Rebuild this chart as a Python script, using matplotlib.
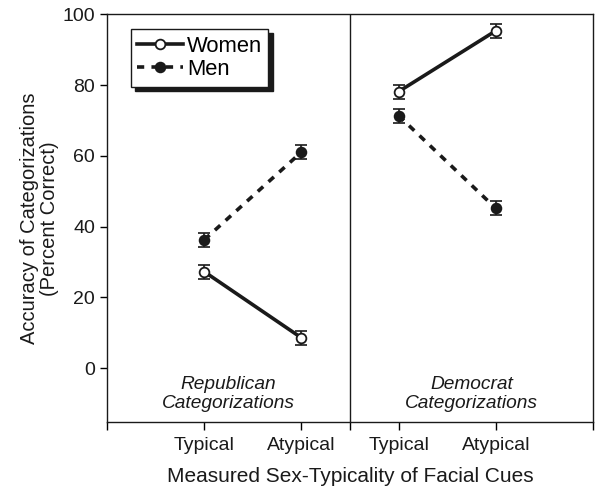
import numpy as np
import matplotlib.pyplot as plt

plt.rcParams['font.family'] = ['Liberation Sans', 'DejaVu Sans']

# x positions of the conditions (Republican panel left, Democrat panel right)
rep_x = [2, 4]
dem_x = [6, 8]
tick_pos = [0, 2, 4, 5, 6, 8, 10]
tick_labels = ['', 'Typical', 'Atypical', '', 'Typical', 'Atypical', '']

# percent correct
rep_women = [27.3, 8.6]
rep_men = [36.3, 61.1]
dem_women = [78.2, 95.4]
dem_men = [71.4, 45.2]
rep_women_se = [2.0, 2.0]
rep_men_se = [2.0, 2.0]
dem_women_se = [2.0, 2.0]
dem_men_se = [2.0, 2.0]

ink = '#1a1a1a'

fig = plt.figure(figsize=(5.95, 4.9), dpi=100)
ax = fig.add_axes([107/595, 1-422/490, 486/595, (422-14.5)/490])

def draw(x, y, se, filled, label=None):
    ls = '-' if not filled else (0, (2.0, 2.0))
    line, = ax.plot(x, y, color=ink, lw=2.6, linestyle=ls, marker='o', ms=7,
                    mfc=ink if filled else 'white', mec=ink, mew=1.3,
                    label=label, zorder=3)
    ax.errorbar(x, y, yerr=se, fmt='none', ecolor=ink, elinewidth=1.2,
                capsize=4.5, capthick=1.2, zorder=2)
    return line

draw(rep_x, rep_women, rep_women_se, False, 'Women')
draw(rep_x, rep_men, rep_men_se, True, 'Men')
draw(dem_x, dem_women, dem_women_se, False)
draw(dem_x, dem_men, dem_men_se, True)

ax.axvline(5, color=ink, lw=1.0)

ax.text(2.5, -7.3, 'Republican\nCategorizations', ha='center', va='center',
        style='italic', fontsize=13.8, color=ink, linespacing=1.2)
ax.text(7.5, -7.3, 'Democrat\nCategorizations', ha='center', va='center',
        style='italic', fontsize=13.8, color=ink, linespacing=1.2)

ax.set_xlim(0, 10)
ax.set_ylim(-15.2, 100)
ax.set_xticks(tick_pos)
ax.set_xticklabels(tick_labels, fontsize=14, color=ink)
ax.set_yticks([0, 20, 40, 60, 80, 100])
ax.tick_params(axis='y', labelsize=14, labelcolor=ink, direction='out', length=5, width=1)
ax.tick_params(axis='x', direction='out', length=6, width=1, pad=5)
for s in ax.spines.values():
    s.set_linewidth(1.0)
    s.set_color(ink)

ax.set_xlabel('Measured Sex-Typicality of Facial Cues', fontsize=15, color=ink, labelpad=9)
ax.set_ylabel('Accuracy of Categorizations\n(Percent Correct)', fontsize=14.5,
              color=ink, linespacing=1.1)
ax.yaxis.set_label_coords(-0.098, 0.5)

leg = ax.legend(loc='upper left', bbox_to_anchor=(0.049, 0.964), borderaxespad=0,
                fontsize=15.8, handlelength=2.1, handletextpad=0.15,
                labelspacing=0.1, borderpad=0.3, fancybox=False,
                shadow={'color': ink, 'alpha': 1.0, 'ox': 3, 'oy': -3},
                framealpha=1.0, edgecolor=ink)
leg.get_frame().set_linewidth(1.0)

fig.savefig('out.png', dpi=100)
